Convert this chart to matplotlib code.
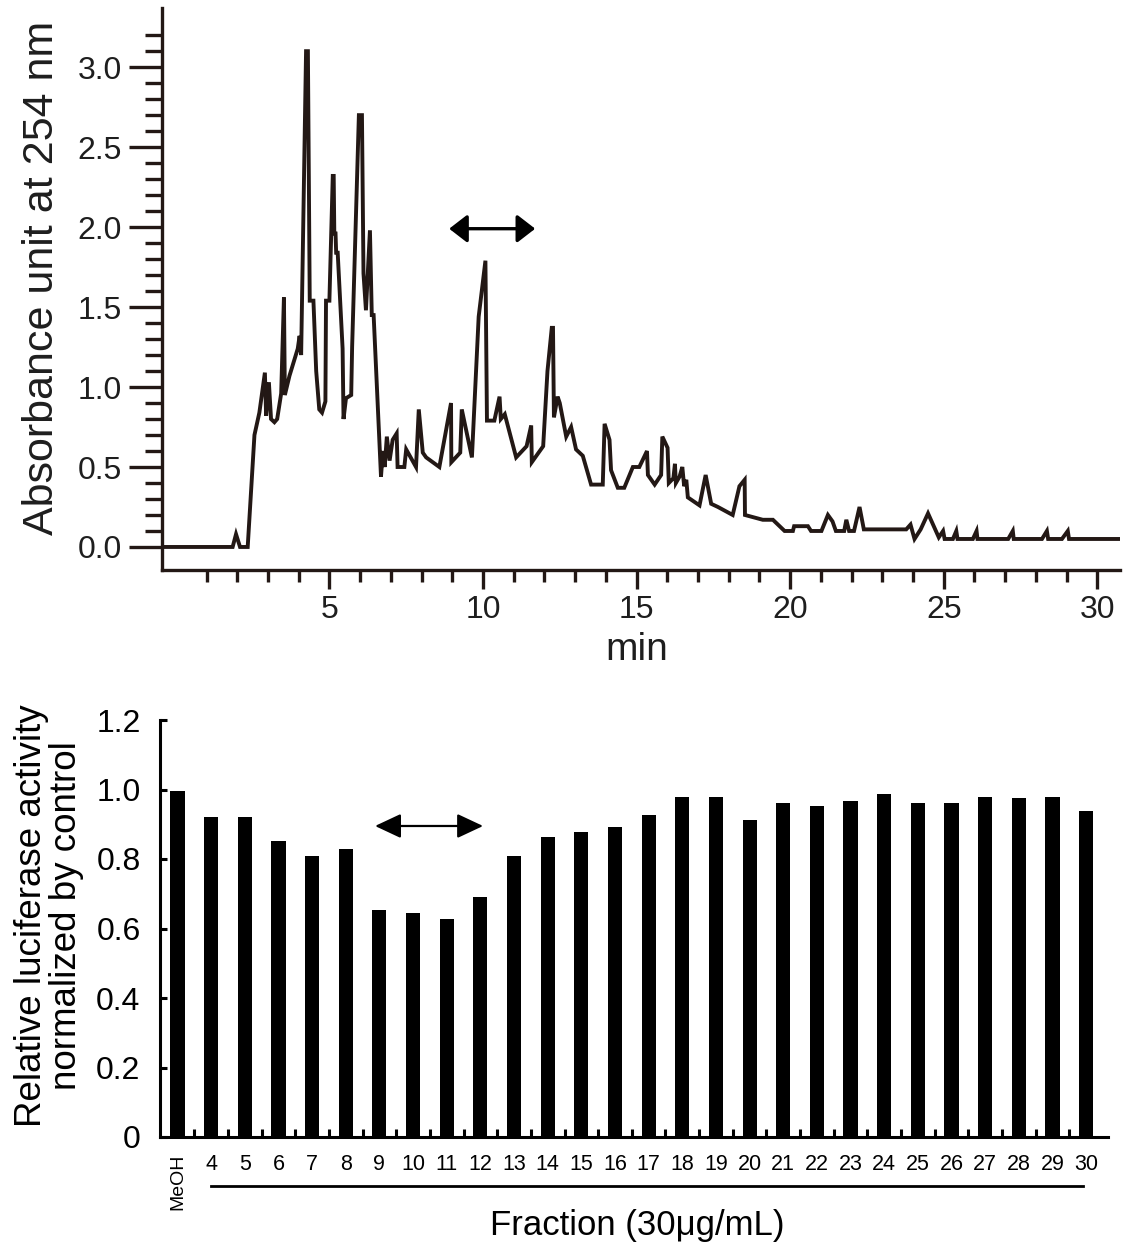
import matplotlib
matplotlib.use("Agg")
import matplotlib.pyplot as plt
from matplotlib.patches import FancyArrowPatch
import numpy as np

plt.rcParams['font.family'] = ['Liberation Sans', 'DejaVu Sans']

# ---------------- data: HPLC chromatogram ----------------
time_min = [-0.45, 1.85, 1.96, 2.09, 2.34, 2.56, 2.72, 2.90, 2.94, 3.03, 3.10, 3.21,
            3.30, 3.43, 3.52, 3.55, 3.70, 3.97, 4.03, 4.08, 4.24, 4.30, 4.36, 4.48,
            4.57, 4.67, 4.76, 4.87, 4.89, 5.00, 5.11, 5.14, 5.16, 5.20, 5.22, 5.27,
            5.43, 5.46, 5.54, 5.71, 5.74, 5.96, 6.06, 6.11, 6.19, 6.32, 6.38, 6.44,
            6.68, 6.74, 6.80, 6.87, 6.96, 7.06, 7.19, 7.22, 7.44, 7.50, 7.82, 7.91,
            8.04, 8.15, 8.58, 8.96, 8.97, 9.26, 9.31, 9.64, 9.86, 10.08, 10.13, 10.37,
            10.54, 10.58, 10.71, 11.08, 11.42, 11.57, 11.59, 11.96, 12.10, 12.24, 12.28,
            12.31, 12.43, 12.50, 12.65, 12.71, 12.87, 13.03, 13.25, 13.52, 13.90, 13.96,
            14.12, 14.17, 14.39, 14.60, 14.88, 15.09, 15.34, 15.37, 15.59, 15.80, 15.84,
            16.01, 16.05, 16.20, 16.25, 16.28, 16.40, 16.49, 16.55, 16.62, 16.67, 17.05,
            17.25, 17.43, 17.65, 18.13, 18.35, 18.52, 18.53, 19.11, 19.44, 19.82, 20.09,
            20.13, 20.58, 20.68, 21.02, 21.23, 21.38, 21.49, 21.76, 21.83, 21.92, 22.08,
            22.26, 22.40, 23.78, 23.92, 24.05, 24.25, 24.49, 24.84, 24.98, 25.03, 25.30,
            25.41, 25.45, 25.95, 26.07, 26.10, 27.10, 27.25, 27.28, 28.20, 28.36, 28.40,
            28.85, 29.04, 29.08, 30.75]
absorbance = [0.00, 0.00, 0.08, 0.00, 0.00, 0.70, 0.84, 1.09, 0.82, 1.03, 0.80, 0.78,
              0.80, 0.96, 1.56, 0.95, 1.07, 1.24, 1.32, 1.20, 3.10, 3.10, 1.54, 1.54,
              1.10, 0.86, 0.84, 0.91, 1.54, 1.54, 2.32, 2.32, 1.96, 1.96, 1.84, 1.84,
              1.24, 0.80, 0.93, 0.95, 1.25, 2.70, 2.70, 1.71, 1.48, 1.98, 1.45, 1.45,
              0.44, 0.60, 0.50, 0.69, 0.54, 0.67, 0.71, 0.50, 0.50, 0.61, 0.50, 0.86,
              0.59, 0.56, 0.50, 0.90, 0.53, 0.59, 0.86, 0.56, 1.44, 1.79, 0.79, 0.79,
              0.94, 0.80, 0.83, 0.56, 0.63, 0.76, 0.53, 0.63, 1.10, 1.37, 1.37,
              0.81, 0.94, 0.90, 0.75, 0.69, 0.75, 0.61, 0.57, 0.39, 0.39, 0.77,
              0.67, 0.48, 0.37, 0.37, 0.50, 0.50, 0.60, 0.45, 0.39, 0.45, 0.69,
              0.62, 0.40, 0.43, 0.52, 0.40, 0.44, 0.50, 0.38, 0.42, 0.31, 0.26,
              0.45, 0.27, 0.25, 0.20, 0.38, 0.42, 0.20, 0.17, 0.17, 0.10, 0.10,
              0.13, 0.13, 0.10, 0.10, 0.20, 0.16, 0.10, 0.10, 0.17, 0.10, 0.10,
              0.25, 0.11, 0.11, 0.14, 0.05, 0.11, 0.21, 0.06, 0.10, 0.05, 0.05,
              0.10, 0.05, 0.05, 0.10, 0.05, 0.05, 0.10, 0.05, 0.05, 0.10, 0.05,
              0.05, 0.10, 0.05, 0.05]
x_major_ticks = [5, 10, 15, 20, 25, 30]
y_major_ticks = [0.0, 0.5, 1.0, 1.5, 2.0, 2.5, 3.0]
peak_range = [8.9, 11.7]      # double arrow, minutes
peak_arrow_level = 1.99

# ---------------- data: luciferase activity per fraction ----------------
fractions = ['MeOH', '4', '5', '6', '7', '8', '9', '10', '11', '12', '13', '14',
             '15', '16', '17', '18', '19', '20', '21', '22', '23', '24', '25', '26',
             '27', '28', '29', '30']
activity = [0.997, 0.92, 0.92, 0.852, 0.81, 0.83, 0.652, 0.646, 0.627, 0.69, 0.81,
            0.862, 0.878, 0.892, 0.928, 0.978, 0.978, 0.911, 0.961, 0.952, 0.968,
            0.986, 0.961, 0.961, 0.978, 0.975, 0.978, 0.937]
bar_y_ticks = [0, 0.2, 0.4, 0.6, 0.8, 1.0, 1.2]
bar_y_labels = ['0', '0.2', '0.4', '0.6', '0.8', '1.0', '1.2']
active_range = [5.87, 9.08]   # double arrow, fraction index units
active_arrow_level = 0.895

INK = '#231815'
TXT = '#1e1e1e'
W, H = 1124, 1243
fig = plt.figure(figsize=(W / 100, H / 100), dpi=100)

# ---------------- top: chromatogram ----------------
ax1 = fig.add_axes([162 / W, 1 - 570 / H, (1120 - 162) / W, (570 - 8) / H])
ax1.plot(time_min, absorbance, color=INK, lw=2.8, solid_joinstyle='miter')
ax1.set_xlim(-0.45, 30.74)
ax1.set_ylim(-0.144, 3.37)
for s in ['top', 'right']:
    ax1.spines[s].set_visible(False)
for s in ['left', 'bottom']:
    ax1.spines[s].set_linewidth(2.4)
    ax1.spines[s].set_color(INK)
ax1.set_xticks(x_major_ticks)
ax1.set_xticks([i for i in range(1, 31) if i % 5], minor=True)
ax1.set_yticks(y_major_ticks)
ax1.set_yticks([round(0.1 * i, 1) for i in range(1, 33) if i % 5], minor=True)
ax1.set_yticklabels([f'{v:.1f}' for v in y_major_ticks])
ax1.tick_params(which='both', direction='out', width=2.4, color=INK,
                labelsize=23, labelcolor=TXT)
ax1.tick_params(axis='y', which='major', length=24, pad=5)
ax1.tick_params(axis='y', which='minor', length=12)
ax1.tick_params(axis='x', which='major', length=14, pad=4)
ax1.tick_params(axis='x', which='minor', length=8.5)

arr1 = FancyArrowPatch((peak_range[0], peak_arrow_level), (peak_range[1], peak_arrow_level),
                       arrowstyle='<|-|>,head_length=1.1,head_width=0.85',
                       mutation_scale=10, color='black', lw=2.4,
                       shrinkA=0, shrinkB=0)
ax1.add_patch(arr1)

fig.text(637 / W, 1 - 650 / H, 'min', ha='center', va='center', fontsize=28,
         color=TXT)
fig.text(42 / W, 1 - 278 / H, 'Absorbance unit at 254 nm', rotation=90,
         ha='center', va='center', fontsize=31, color=TXT)

# ---------------- bottom: bar chart ----------------
ax2 = fig.add_axes([160 / W, 1 - 1137 / H, (1108 - 160) / W, (1137 - 720) / H])
x = np.arange(len(fractions))
ax2.bar(x, activity, width=0.42, color='black')
ax2.set_xlim(-0.52, 27.65)
ax2.set_ylim(0, 1.2)
for s in ['top', 'right']:
    ax2.spines[s].set_visible(False)
for s in ['left', 'bottom']:
    ax2.spines[s].set_linewidth(2.2)
ax2.set_yticks(bar_y_ticks)
ax2.set_yticklabels(bar_y_labels)
ax2.tick_params(axis='y', direction='in', length=5, width=2.2, labelsize=23, pad=14)
ax2.set_xticks(x)
ax2.set_xticklabels(fractions)
ax2.set_xticks(x[:-1] + 0.5, minor=True)
ax2.tick_params(axis='x', which='major', length=0, labelsize=15.5, pad=12)
ax2.tick_params(axis='x', which='minor', direction='in', length=6, width=2.2)
lab0 = ax2.get_xticklabels()[0]
lab0.set_rotation(90)
lab0.set_fontsize(14)
lab0.set_va('top')

arr2 = FancyArrowPatch((active_range[0], active_arrow_level), (active_range[1], active_arrow_level),
                       arrowstyle='<|-|>,head_length=1.6,head_width=0.75',
                       mutation_scale=10, color='black', lw=1.6,
                       shrinkA=0, shrinkB=0)
ax2.add_patch(arr2)

ax2.plot([1, 26.9], [-0.118, -0.118], color='black', lw=2.0, clip_on=False,
         transform=ax2.get_xaxis_transform())
fig.text(637 / W, 1 - 1225 / H, 'Fraction (30\u03bcg/mL)', ha='center', va='center',
         fontsize=25)
fig.text(49 / W, 1 - 916 / H, 'Relative luciferase activity\nnormalized by control',
         rotation=90, ha='center', va='center', fontsize=26.5, linespacing=1.0,
         multialignment='center')

fig.savefig('out.png', dpi=100)
